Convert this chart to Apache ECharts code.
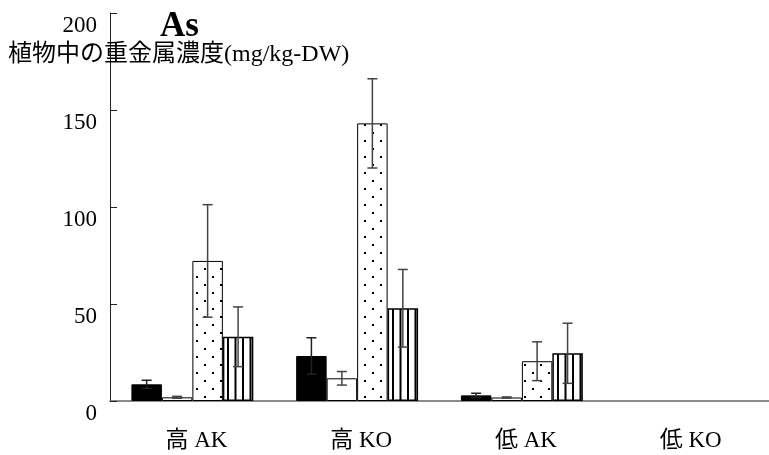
<!DOCTYPE html>
<html>
<head>
<meta charset="utf-8">
<script src="https://cdn.jsdelivr.net/npm/echarts@6/dist/echarts.min.js"></script>
<style>
  html, body { margin: 0; padding: 0; background: #fff; }
  #chart { width: 769px; height: 455px; }
</style>
</head>
<body>
<div id="chart"></div>
<script>
// values (mg/kg-DW)
const categories = ['高 AK', '高 KO', '低 AK', '低 KO'];
const blackMean = [8.6, 23.2, 2.9, null];
const blackErr = [2.1, 9.4, 1.1, null];
const whiteMean = [1.9, 11.7, 1.8, null];
const whiteErr = [0.5, 3.5, 0.3, null];
const dotMean = [72.2, 143.1, 20.5, null];
const dotErr = [29, 23, 10, null];
const stripeMean = [33.1, 47.8, 24.6, null];
const stripeErr = [15.4, 20, 15.5, null];
const yTicks = [0, 50, 100, 150, 200];

const serifFont = '"Liberation Serif", "Noto Sans CJK JP", serif';
const gapRatio = 0.26;

// fill patterns
function dotPattern() {
  const c = document.createElement('canvas');
  c.width = 16; c.height = 16;
  const ctx = c.getContext('2d');
  ctx.fillStyle = '#fff';
  ctx.fillRect(0, 0, 16, 16);
  ctx.fillStyle = '#000';
  ctx.fillRect(4, 4, 2, 2);
  ctx.fillRect(12, 12, 2, 2);
  return c;
}
function stripePattern() {
  const c = document.createElement('canvas');
  c.width = 15; c.height = 4;
  const ctx = c.getContext('2d');
  ctx.fillStyle = '#fff';
  ctx.fillRect(0, 0, 15, 4);
  ctx.fillStyle = '#000';
  ctx.fillRect(2, 0, 2, 4);
  ctx.fillRect(9.5, 0, 2, 4);
  return c;
}

const means = [blackMean, whiteMean, dotMean, stripeMean];
const errs = [blackErr, whiteErr, dotErr, stripeErr];

// error bar data: [category, mean, err, series]
const errData = [];
means.forEach((arr, s) => {
  arr.forEach((v, i) => {
    if (v != null) errData.push([i, v, errs[s][i], s]);
  });
});

function renderError(params, api) {
  const cat = api.value(0);
  const mean = api.value(1);
  const err = api.value(2);
  const s = api.value(3);
  const lo = api.coord([cat, mean - err]);
  const hi = api.coord([cat, mean + err]);
  const bandW = api.size([1, 0])[0];
  const barW = bandW * (1 - gapRatio) / 4;
  const x = lo[0] + (s - 1.5) * barW;
  const cap = 5;
  const style = { stroke: s === 0 ? '#222' : '#444', lineWidth: 1.5 };
  return {
    type: 'group',
    children: [
      { type: 'line', shape: { x1: x, y1: lo[1], x2: x, y2: hi[1] }, style: style },
      { type: 'line', shape: { x1: x - cap, y1: hi[1], x2: x + cap, y2: hi[1] }, style: style },
      { type: 'line', shape: { x1: x - cap, y1: lo[1], x2: x + cap, y2: lo[1] }, style: style }
    ]
  };
}

const chart = echarts.init(document.getElementById('chart'));

const option = {
  animation: false,
  backgroundColor: '#fff',
  title: [
    {
      text: 'As',
      left: 155,
      top: 4,
      textStyle: { fontFamily: serifFont, fontSize: 35, fontWeight: 'bold', color: '#000' }
    },
    {
      text: '植物中の重金属濃度(mg/kg-DW)',
      left: 3,
      top: 38,
      textStyle: { fontFamily: serifFont, fontSize: 24, fontWeight: 'normal', color: '#000' }
    }
  ],
  grid: { left: 110, right: -4, top: 13, bottom: 54 },
  xAxis: {
    type: 'category',
    data: categories,
    axisLine: { lineStyle: { color: '#666', width: 1.5 } },
    axisTick: { inside: true, length: 7, lineStyle: { color: '#666' } },
    axisLabel: {
      margin: 28,
      padding: [0, 0, 0, 8],
      fontFamily: serifFont,
      fontSize: 23,
      color: '#000'
    }
  },
  yAxis: {
    type: 'value',
    min: yTicks[0],
    max: yTicks[yTicks.length - 1],
    interval: 50,
    splitLine: { show: false },
    axisLine: { show: true, lineStyle: { color: '#222', width: 1 } },
    axisTick: { show: true, inside: true, length: 7, lineStyle: { color: '#222' } },
    axisLabel: {
      margin: 13,
      verticalAlign: 'top',
      lineHeight: 23,
      padding: [1, 0, 0, 0],
      fontFamily: serifFont,
      fontSize: 23,
      color: '#000'
    }
  },
  series: [
    {
      name: 'black',
      type: 'bar',
      data: blackMean,
      barGap: 0,
      barCategoryGap: (gapRatio * 100) + '%',
      itemStyle: { color: '#000', borderColor: '#000', borderWidth: 1 }
    },
    {
      name: 'white',
      type: 'bar',
      data: whiteMean,
      itemStyle: { color: '#fff', borderColor: '#000', borderWidth: 1 }
    },
    {
      name: 'dotted',
      type: 'bar',
      data: dotMean,
      itemStyle: { color: { image: dotPattern(), repeat: 'repeat' }, borderColor: '#000', borderWidth: 1 }
    },
    {
      name: 'striped',
      type: 'bar',
      data: stripeMean,
      itemStyle: { color: { image: stripePattern(), repeat: 'repeat' }, borderColor: '#000', borderWidth: 1.5 }
    },
    {
      name: 'error',
      type: 'custom',
      renderItem: renderError,
      data: errData,
      encode: { x: 0, y: 1 },
      z: 10
    }
  ]
};

chart.setOption(option);
</script>
</body>
</html>
